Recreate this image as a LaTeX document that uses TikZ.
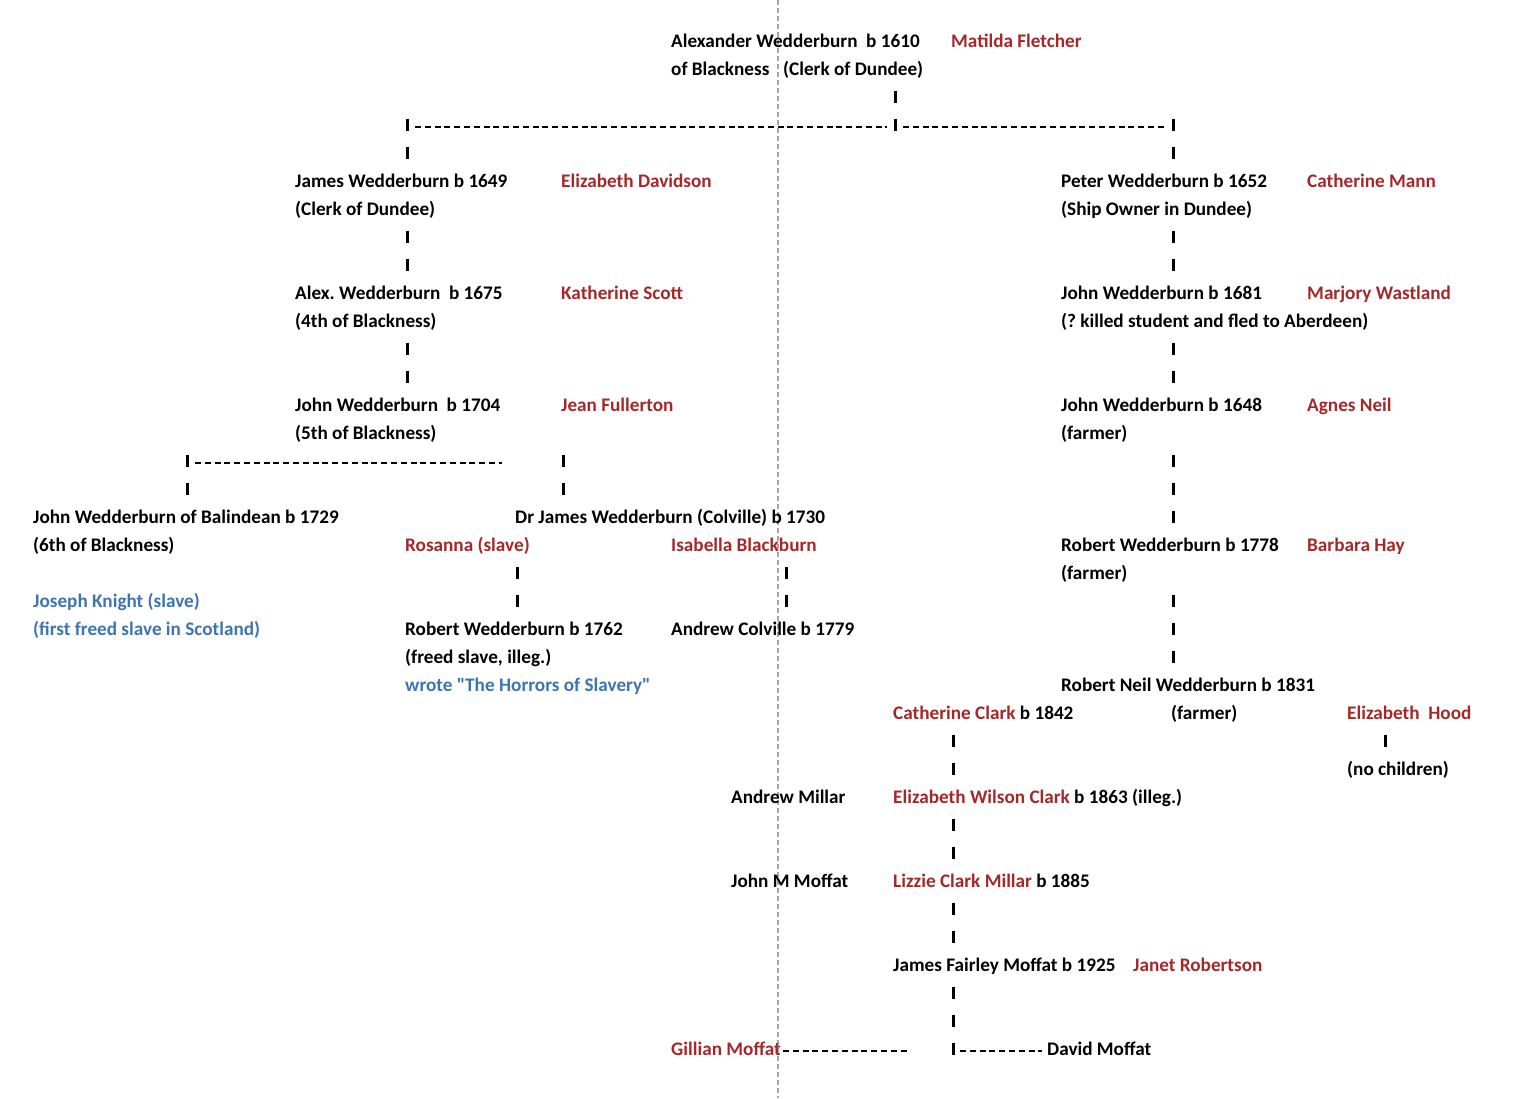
\documentclass[tikz,border=0pt]{standalone}
\usepackage{fontspec}
\setmainfont{Carlito}
\definecolor{kred}{RGB}{165,40,40}
\definecolor{kblue}{RGB}{62,117,177}
\definecolor{kgrey}{RGB}{165,165,165}
\begin{document}
\begin{tikzpicture}[x=1pt,y=-1pt,
  txt/.style={anchor=base west,inner sep=0pt,font=\fontsize{19.2}{21}\selectfont\bfseries\frenchspacing,text=black},
  rd/.style={txt,text=kred},
  bl/.style={txt,text=kblue},
  tick/.style={line width=3pt},
  hdash/.style={line width=2pt,dash pattern=on 6pt off 3.8pt},
  pagebreak/.style={kgrey,line width=1.4pt,dash pattern=on 5pt off 3pt}]
\useasboundingbox (0,0) rectangle (1538,1098);
\fill[white] (0,0) rectangle (1538,1098);
% page break line
\coordinate (pbtop) at (778,0);
\coordinate (pbbot) at (778,1098);
\draw[pagebreak] (pbtop) -- (pbbot);
% rows: baseline = row + 7
% generation 1
\node[txt] (alex) at (671,47) {Alexander Wedderburn\ \ b 1610};
\node[rd] (matilda) at (951,47) {Matilda Fletcher};
\node[txt] (ofb) at (671,75) {of Blackness};
\node[txt] (clerk1) at (783,75) {(Clerk of Dundee)};
% generation 2 left
\node[txt] (james) at (295,187) {James Wedderburn b 1649};
\node[rd] (elizd) at (561,187) {Elizabeth Davidson};
\node[txt] (clerk2) at (295,215) {(Clerk of Dundee)};
\node[txt] (alex2) at (295,299) {Alex. Wedderburn\ \ b 1675};
\node[rd] (kath) at (561,299) {Katherine Scott};
\node[txt] (fourth) at (295,327) {(4th of Blackness)};
\node[txt] (john1704) at (295,411) {John Wedderburn\ \ b 1704};
\node[rd] (jean) at (561,411) {Jean Fullerton};
\node[txt] (fifth) at (295,439) {(5th of Blackness)};
\node[txt] (balin) at (33,523) {John Wedderburn of Balindean b 1729};
\node[txt] (sixth) at (33,551) {(6th of Blackness)};
\node[bl] (joseph) at (33,607) {Joseph Knight (slave)};
\node[bl] (firstfreed) at (33,635) {(first freed slave in Scotland)};
\node[txt] (drjames) at (515,523) {Dr James Wedderburn (Colville) b 1730};
\node[rd] (rosanna) at (405,551) {Rosanna (slave)};
\node[rd] (isabella) at (671,551) {Isabella Blackburn};
\node[txt] (robert1762) at (405,635) {Robert Wedderburn b 1762};
\node[txt] (freed) at (405,663) {(freed slave, illeg.)};
\node[bl] (wrote) at (405,691) {wrote \textquotedbl The Horrors of Slavery\textquotedbl};
\node[txt] (andrewc) at (671,635) {Andrew Colville b 1779};
% right branch
\node[txt] (peter) at (1061,187) {Peter Wedderburn b 1652};
\node[rd] (cathm) at (1307,187) {Catherine Mann};
\node[txt] (ship) at (1061,215) {(Ship Owner in Dundee)};
\node[txt] (john1681) at (1061,299) {John Wedderburn b 1681};
\node[rd] (marjory) at (1307,299) {Marjory Wastland};
\node[txt] (killed) at (1061,327) {(? killed student and fled to Aberdeen)};
\node[txt] (john1648) at (1061,411) {John Wedderburn b 1648};
\node[rd] (agnes) at (1307,411) {Agnes Neil};
\node[txt] (farmer1) at (1061,439) {(farmer)};
\node[txt] (robert1778) at (1061,551) {Robert Wedderburn b 1778};
\node[rd] (barbara) at (1307,551) {Barbara Hay};
\node[txt] (farmer2) at (1061,579) {(farmer)};
\node[txt] (robneil) at (1061,691) {Robert Neil Wedderburn b 1831};
\node[txt] (catc) at (893,719) {\textcolor{kred}{Catherine Clark} b 1842};
\node[txt] (farmer3) at (1171,719) {(farmer)};
\node[rd] (ehood) at (1347,719) {Elizabeth\ \ Hood};
\node[txt] (nochild) at (1347,775) {(no children)};
\node[txt] (amillar) at (731,803) {Andrew Millar};
\node[txt] (ewc) at (893,803) {\textcolor{kred}{Elizabeth Wilson Clark} b 1863 (illeg.)};
\node[txt] (jmm) at (731,887) {John M Moffat};
\node[txt] (lizzie) at (893,887) {\textcolor{kred}{Lizzie Clark Millar} b 1885};
\node[txt] (jfm) at (893,971) {James Fairley Moffat b 1925};
\node[rd] (janet) at (1133,971) {Janet Robertson};
\node[rd] (gillian) at (671,1055) {Gillian Moffat};
\node[txt] (david) at (1047,1055) {David Moffat};
% vertical ticks (x/row)
\foreach \x/\r in {895/96,407/124,895/124,1173/124,407/152,1173/152,
  407/236,407/264,1173/236,1173/264,
  407/348,407/376,1173/348,1173/376,
  187/460,563/460,1173/460,187/488,563/488,1173/488,1173/516,
  517/572,786/572,517/600,786/600,1173/600,1173/628,1173/656,
  953/740,1385/740,953/768,
  953/824,953/852,953/908,953/936,953/992,953/1020,953/1048}
  \draw[tick] (\x,\r-5.5) -- (\x,\r+7);
% horizontal dashed connectors
\coordinate (h1a) at (415,126.5); \coordinate (h1b) at (887,126.5);
\coordinate (h2a) at (903,126.5); \coordinate (h2b) at (1167,126.5);
\coordinate (h3a) at (195,462.5); \coordinate (h3b) at (502,462.5);
\coordinate (h4a) at (783,1050.5); \coordinate (h4b) at (910,1050.5);
\coordinate (h5a) at (960,1050.5); \coordinate (h5b) at (1042,1050.5);
\draw[hdash] (h1a) -- (h1b);
\draw[hdash] (h2a) -- (h2b);
\draw[hdash] (h3a) -- (h3b);
\draw[hdash] (h4a) -- (h4b);
\draw[hdash] (h5a) -- (h5b);
\end{tikzpicture}
\end{document}
